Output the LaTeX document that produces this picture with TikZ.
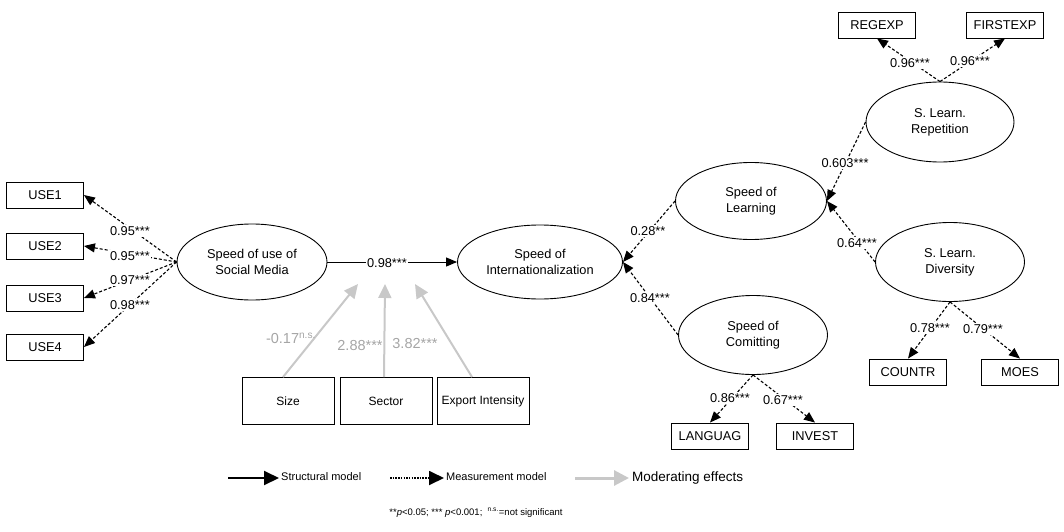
\documentclass[tikz,border=0pt]{standalone}
\usepackage{fontspec}
\setmainfont{Liberation Sans}
\usetikzlibrary{arrows.meta,shapes.geometric,calc}
\definecolor{modgray}{RGB}{200,200,200}
\definecolor{modtext}{RGB}{165,165,165}
\begin{document}
\begin{tikzpicture}[x=1pt,y=-1pt,
  box/.style={draw, line width=0.9pt, minimum width=77pt, minimum height=26pt, inner sep=0pt, font=\fontsize{12.8}{15}\selectfont},
  ell/.style={draw, ellipse, line width=0.9pt, inner sep=0pt, align=center, font=\fontsize{12.8}{16}\selectfont},
  modbox/.style={draw, line width=0.9pt, minimum width=92pt, minimum height=47pt, inner sep=0pt, font=\fontsize{12}{14}\selectfont},
  tipa/.style={-{Triangle[length=11pt,width=9pt]}},
  meas/.style={tipa, line width=1.1pt, dash pattern=on 3pt off 2pt},
  struct/.style={tipa, line width=1pt},
  modarrow/.style={-{Triangle[length=14pt,width=13pt]}, draw=modgray, line width=2pt},
  coef/.style={fill=white, inner sep=1pt, font=\fontsize{12.8}{15}\selectfont},
  gcoef/.style={text=modtext, inner sep=1pt, font=\fontsize{14.5}{16}\selectfont},
  legtext/.style={anchor=west, inner sep=0pt, font=\fontsize{11}{13}\selectfont},
  ]
\useasboundingbox (0,0) rectangle (1064,532);

% latent variables
\node[ell, minimum width=150pt, minimum height=76pt] (sm) at (252,262) {Speed of use of\\Social Media};
\node[ell, minimum width=165pt, minimum height=74pt] (int) at (540,262) {Speed of\\Internationalization};
\node[ell, minimum width=151pt, minimum height=77pt] (learn) at (751,201) {Speed of\\Learning};
\node[ell, minimum width=149pt, minimum height=79pt] (comm) at (753,335) {Speed of\\Comitting};
\node[ell, minimum width=148pt, minimum height=80pt] (rep) at (940,122) {S. Learn.\\Repetition};
\node[ell, minimum width=149pt, minimum height=79pt] (div) at (950,262) {S. Learn.\\Diversity};

% indicators
\node[box] (u1) at (45,195) {USE1};
\node[box] (u2) at (45,246) {USE2};
\node[box] (u3) at (45,298) {USE3};
\node[box] (u4) at (45,347) {USE4};
\node[box] (regexp) at (877,25) {REGEXP};
\node[box] (firstexp) at (1005,25) {FIRSTEXP};
\node[box] (countr) at (908,372) {COUNTR};
\node[box] (moes) at (1020,372) {MOES};
\node[box] (languag) at (710,436) {LANGUAG};
\node[box] (invest) at (815,436) {INVEST};

% moderators
\node[modbox] (size) at (288,401) {Size};
\node[modbox] (sector) at (386,401) {Sector};
\node[modbox] (export) at (483,401) {Export Intensity};

% measurement arrows
\draw[meas] (sm.west) -- (u1.east);
\draw[meas] (sm.west) -- (u2.east);
\draw[meas] (sm.west) -- (u3.east);
\draw[meas] (sm.west) -- (u4.east);
\draw[meas] (rep.north) -- (regexp.south);
\draw[meas] (rep.north) -- (firstexp.south);
\draw[meas] (div.south) -- (countr.north);
\draw[meas] (div.south) -- (moes.north);
\draw[meas] (comm.south) -- (languag.north);
\draw[meas] (comm.south) -- (invest.north);
\draw[meas] (rep.west) -- (learn.east);
\draw[meas] (div.west) -- (learn.east);
\draw[meas] (learn.west) -- (int.east);
\draw[meas] (comm.west) -- (int.east);

% structural arrow
\draw[struct] (sm.east) -- (int.west);

% moderating arrows
\coordinate (mt1) at (358,284);
\coordinate (mt2) at (385,284);
\coordinate (mt3) at (415,284);
\draw[modarrow] ([xshift=-5pt]size.north) -- (mt1);
\draw[modarrow] ([xshift=-2pt]sector.north) -- (mt2);
\draw[modarrow] ([xshift=-11pt]export.north) -- (mt3);

% coefficients
\node[coef] (c1) at (130,231) {0.95***};
\node[coef] (c2) at (130,256) {0.95***};
\node[coef] (c3) at (130,280) {0.97***};
\node[coef] (c4) at (130,305) {0.98***};
\node[coef] (c5) at (387,263) {0.98***};
\node[coef] (c6) at (648,231) {0.28**};
\node[coef] (c7) at (650,298) {0.84***};
\node[coef] (c8) at (730,398) {0.86***};
\node[coef] (c9) at (783,400) {0.67***};
\node[coef] (c10) at (910,63) {0.96***};
\node[coef] (c11) at (970,61) {0.96***};
\node[coef] (c12) at (845,163) {0.603***};
\node[coef] (c13) at (857,243) {0.64***};
\node[coef] (c14) at (930,328) {0.78***};
\node[coef] (c15) at (983,329) {0.79***};

\node[gcoef] (g1) at (291,338) {-0.17\textsuperscript{n.s.}};
\node[gcoef] (g2) at (360,346) {2.88***};
\node[gcoef] (g3) at (415,344) {3.82***};

% legend
\coordinate (ls1) at (228,478);
\coordinate (le1) at (279,478);
\coordinate (ls2) at (390,478);
\coordinate (le2) at (444,478);
\coordinate (ls3) at (575,478);
\coordinate (le3) at (629,478);
\draw[-{Triangle[length=15pt,width=14pt]}, line width=2pt] (ls1) -- (le1);
\draw[-{Triangle[length=15pt,width=14pt]}, line width=1.8pt, dash pattern=on 1.5pt off 1.2pt] (ls2) -- (le2);
\draw[-{Triangle[length=15pt,width=15pt]}, draw=modgray, line width=3pt] (ls3) -- (le3);
\node[legtext] (lt1) at (281,477) {Structural model};
\node[legtext] (lt2) at (446,477) {Measurement model};
\node[legtext, font=\fontsize{13.5}{15}\selectfont] (lt3) at (632,478) {Moderating effects};

% footnote
\node[inner sep=0pt, font=\fontsize{9.5}{11}\selectfont] (foot) at (476,513) {**\textit{p}<0.05; *** \textit{p}<0.001;\ \ \textsuperscript{n.s.}=not significant};
\end{tikzpicture}
\end{document}
